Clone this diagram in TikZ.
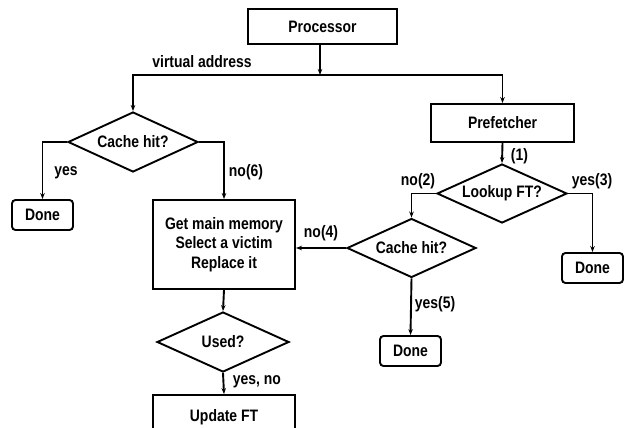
\documentclass[tikz,border=0pt]{standalone}
\usepackage{fontspec}
\setmainfont{Liberation Sans}[FakeStretch=0.84]
\usetikzlibrary{shapes.geometric,arrows.meta}
\begin{document}
\begin{tikzpicture}[x=1pt,y=-1pt,
  font=\fontsize{16.6}{19.3}\selectfont\bfseries,
  every node/.style={inner sep=0pt},
  box/.style={draw,line width=1.9pt,rectangle,align=center},
  donebox/.style={draw,line width=1.9pt,rectangle,rounded corners=3.5pt,minimum width=61pt,minimum height=30pt},
  dia/.style={draw,line width=1.9pt,diamond,aspect=2.2},
  arr/.style={line width=1.9pt,-{Stealth[length=6pt,width=4.5pt]}},
  lbl/.style={}]
\useasboundingbox (0,0) rectangle (624,428);
\clip (0,0) rectangle (624,428);
% nodes
\node[box,minimum width=149pt,minimum height=35pt] (proc) at (322.5,26.5) {Processor};
\node[box,minimum width=143pt,minimum height=38pt] (pref) at (502.5,123) {Prefetcher};
\node[dia,minimum width=130pt,minimum height=60pt] (chl) at (133,142) {Cache hit?};
\node[donebox] (d1) at (42.5,215) {Done};
\node[box,minimum width=142pt,minimum height=89pt] (mem) at (224,244.5) {Get main memory\\Select a victim\\Replace it};
\node[dia,minimum width=132pt,minimum height=60pt] (used) at (223,342) {Used?};
\node[box,minimum width=142pt,minimum height=45pt] (upd) at (224,417.5) {Update FT};
\node[dia,minimum width=130pt,minimum height=59pt] (lft) at (502,193.5) {Lookup FT?};
\node[dia,minimum width=129pt,minimum height=59pt] (chm) at (411.5,248) {Cache hit?};
\node[donebox] (d2) at (410.5,351) {Done};
\node[donebox] (d3) at (592.5,268) {Done};
\coordinate (jt) at (320,75);
% connectors
\draw[arr] (proc.south -| jt) -- (jt);
\draw[arr] (jt) -| (chl.north);
\draw[arr] (jt) -| (pref.north);
\node[lbl] (va) at (202,62) {virtual address};
\draw[arr] (chl.west) -| (d1.north);
\node[lbl] (lyes) at (66,173) {yes};
\draw[arr] (chl.east) -| (mem.north);
\node[lbl] (lno6) at (246,172) {no(6)};
\draw[arr] (mem.south) -- (used.north);
\draw[arr] (used.south) -- (upd.north);
\node[lbl] (lyn) at (257,382) {yes, no};
\draw[arr] (pref.south) -- (lft.north);
\node[lbl] (l1) at (519.5,156) {(1)};
\draw[arr] (lft.west) -| (chm.north);
\node[lbl] (lno2) at (418,181) {no(2)};
\draw[arr] (lft.east) -| (d3.north);
\node[lbl] (lyes3) at (592,181) {yes(3)};
\draw[arr] (chm.west) -- (chm.west -| mem.east);
\node[lbl] (lno4) at (321,233) {no(4)};
\draw[arr] (chm.south) -- (d2.north);
\node[lbl] (lyes5) at (435,304) {yes(5)};
\end{tikzpicture}
\end{document}
